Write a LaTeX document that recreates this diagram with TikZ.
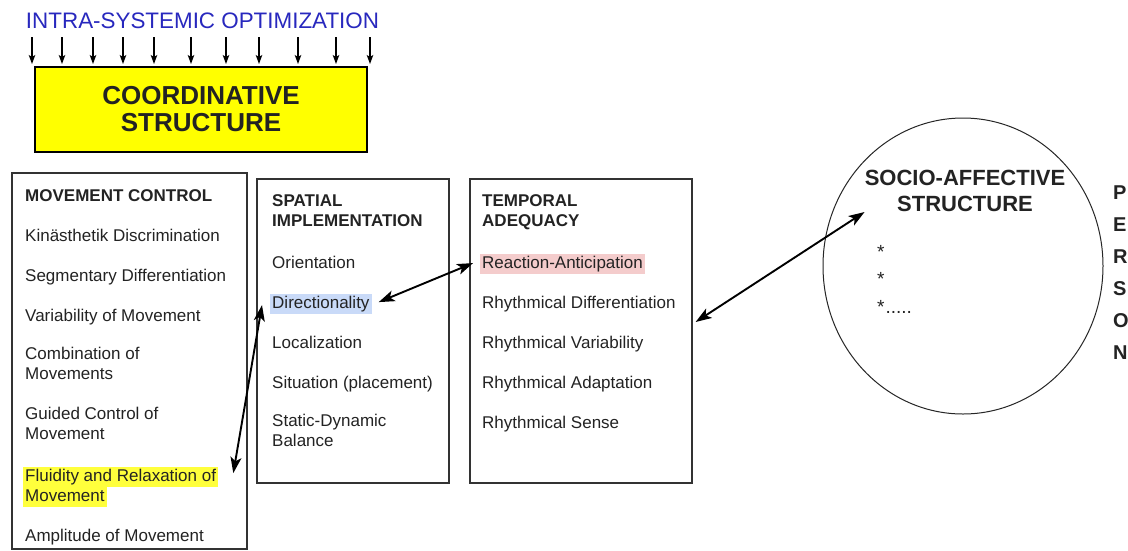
\documentclass[tikz,border=0pt]{standalone}
\usepackage{fontspec}
\setmainfont{Liberation Sans}
\usetikzlibrary{arrows.meta,shapes.geometric}
\definecolor{titleblue}{RGB}{40,40,190}
\definecolor{boxyellow}{RGB}{255,255,0}
\definecolor{hlyellow}{RGB}{255,255,60}
\definecolor{hlblue}{RGB}{201,218,248}
\definecolor{hlpink}{RGB}{244,204,204}
\definecolor{inkgray}{RGB}{35,35,35}
\newcommand{\hlbox}[2]{{\setlength{\fboxsep}{0pt}\colorbox{#1}{\strut\hspace{2pt}#2\hspace{2pt}}}}
\begin{document}
\begin{tikzpicture}[x=1pt,y=-1pt,
  txt/.style={font=\fontsize{17}{20}\selectfont, text=inkgray, anchor=north west, inner sep=0pt, align=left, execute at begin node=\strut},
  hd/.style={txt, font=\fontsize{17}{20}\selectfont\bfseries},
  panel/.style={draw=black!80, line width=1.2pt, rectangle, inner sep=0pt},
  dbl/.style={{Stealth[length=16pt,width=11pt,inset=4pt]}-{Stealth[length=16pt,width=11pt,inset=4pt]}, line width=1.9pt},
  down/.style={-{Stealth[length=9pt,width=6.5pt,inset=2pt]}, line width=1.1pt}]
\useasboundingbox (0,0) rectangle (1128,550);
\fill[white] (0,0) rectangle (1128,550);

% top
\node[font=\fontsize{22.4}{26}\selectfont, text=titleblue, anchor=base, inner sep=0pt] (intra) at (202.5,28) {INTRA-SYSTEMIC OPTIMIZATION};
\foreach \x [count=\i] in {32,62,93,123,154,191,226,259,298,336,370} {
  \coordinate (ta\i) at (\x,37);
  \coordinate (tb\i) at (\x,64);
  \draw[down] (ta\i) -- (tb\i);
}
\node[draw=black, line width=1.5pt, fill=boxyellow, minimum width=332pt, minimum height=85pt, inner sep=0pt,
  font=\fontsize{26}{27}\selectfont\bfseries, text=inkgray, align=center] (coord) at (201,109.5) {COORDINATIVE\\STRUCTURE};

% panels
\node[panel, minimum width=235pt, minimum height=376pt] (mc) at (129.5,361) {};
\node[panel, minimum width=192pt, minimum height=304pt] (sp) at (353,331) {};
\node[panel, minimum width=222pt, minimum height=304pt] (temp) at (581,331) {};

% movement control
\node[hd] (mch) at (25,187.1) {MOVEMENT CONTROL};
\node[txt] (kin) at (25,227.1) {Kinästhetik Discrimination};
\node[txt] (seg) at (25,267.1) {Segmentary Differentiation};
\node[txt] (var) at (25,307.1) {Variability of Movement};
\node[txt] (comb) at (25,347.1) {Combination of\\Movements};
\node[txt] (guid) at (25,407.1) {Guided Control of\\Movement};
\node[txt] (fluid) at (23,467.1) {\hlbox{hlyellow}{Fluidity and Relaxation of}\\\hlbox{hlyellow}{Movement}};
\node[txt] (ampl) at (25,527.1) {Amplitude of Movement};

% spatial
\node[hd] (sph) at (272,194.1) {SPATIAL\\IMPLEMENTATION};
\node[txt] (orient) at (272,254.1) {Orientation};
\node[txt] (dirn) at (270,294.1) {\hlbox{hlblue}{Directionality}};
\node[txt] (loc) at (272,334.1) {Localization};
\node[txt] (sit) at (272,374.1) {Situation (placement)};
\node[txt] (stat) at (272,414.1) {Static-Dynamic\\Balance};

% temporal
\node[hd] (tph) at (482,194.1) {TEMPORAL\\ADEQUACY};
\node[txt] (reac) at (480,254.1) {\hlbox{hlpink}{Reaction-Anticipation}};
\node[txt] (rdif) at (482,294.1) {Rhythmical Differentiation};
\node[txt] (rvar) at (482,334.1) {Rhythmical Variability};
\node[txt] (rada) at (482,374.1) {Rhythmical Adaptation};
\node[txt] (rsen) at (482,414.1) {Rhythmical Sense};

% socio-affective
\node[draw=black!85, line width=1pt, ellipse, minimum width=280pt, minimum height=296pt, inner sep=0pt] (ell) at (963,266) {};
\node[font=\fontsize{22}{26}\selectfont\bfseries, text=inkgray, align=center, inner sep=0pt] (socio) at (965,191) {SOCIO-AFFECTIVE\\STRUCTURE};
\node[txt, font=\fontsize{19}{27.5}\selectfont] (stars) at (877,245) {*\\*\\*\hspace{1pt}.....};
\node[font=\fontsize{20}{32}\selectfont\bfseries, text=inkgray, align=left, inner sep=0pt, anchor=north west] (person) at (1113,185.5) {P\\E\\R\\S\\O\\N};

% connectors
\draw[dbl] ([shift={(15,6)}]fluid.north east) -- ([shift={(-8,11)}]dirn.north west);
\draw[dbl] ([shift={(7,8)}]dirn.north east) -- ([shift={(-7,9)}]reac.north west);
\draw[dbl] ([shift={(3,-9)}]temp.east) -- (socio.south west);
\end{tikzpicture}
\end{document}
